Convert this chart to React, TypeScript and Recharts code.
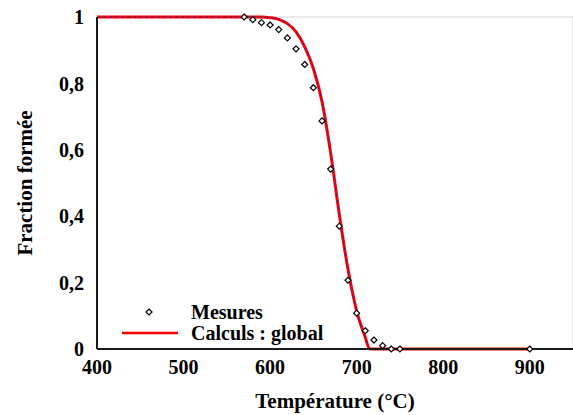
import {
  CartesianGrid,
  ComposedChart,
  Legend,
  Line,
  Scatter,
  XAxis,
  YAxis,
} from "recharts";

const xTicks = [400, 500, 600, 700, 800, 900];
const yTicks = [0, 0.2, 0.4, 0.6, 0.8, 1];

// Mesures
const mesT = [570, 580, 590, 600, 610, 620, 630, 640, 650, 660, 670, 680, 690, 700, 710, 720, 730, 740, 750, 900];
const mesF = [1, 0.992, 0.983, 0.976, 0.962, 0.937, 0.904, 0.857, 0.787, 0.687, 0.542, 0.37, 0.207, 0.108, 0.055, 0.027, 0.01, 0, 0, 0];

// Calculs : global
const calcT = [400, 550, 590, 600, 610, 620, 630, 640, 650, 660, 670, 680, 690, 700, 710, 715, 800, 900];
const calcF = [1, 1, 1, 0.998, 0.993, 0.98, 0.955, 0.91, 0.845, 0.745, 0.59, 0.405, 0.24, 0.115, 0.035, 0, 0, 0];

const mesures = mesT.map((t, i) => ({ t, f: mesF[i] }));
const calculs = calcT.map((t, i) => ({ t, f: calcF[i] }));

const FONT = "Liberation Serif, Times New Roman, serif";
const tickStyle = { fontSize: 20, fontWeight: 700, fill: "#000", fontFamily: FONT };

const fmtY = (v: number) => (v === 0 || v === 1 ? `${v}` : v.toFixed(1).replace(".", ","));

function Diamond(props: any) {
  const { cx, cy } = props;
  if (cx == null || cy == null) return null;
  const r = 3;
  return (
    <polygon
      points={`${cx},${cy - r} ${cx + r},${cy} ${cx},${cy + r} ${cx - r},${cy}`}
      fill="#fff"
      stroke="#000"
      strokeWidth={1.2}
    />
  );
}

function LegendBox() {
  return (
    <div
      style={{
        background: "#fff",
        width: 222,
        height: 45,
        fontFamily: FONT,
        fontWeight: 700,
        fontSize: 20,
        color: "#000",
        position: "relative",
      }}
    >
      <svg width={80} height={45} style={{ position: "absolute", left: 0, top: 0 }}>
        <polygon points="39,7 42,10 39,13 36,10" fill="#fff" stroke="#000" strokeWidth={1.2} />
        <line x1={12} y1={31} x2={68} y2={31} stroke="#ff0000" strokeWidth={2.5} />
      </svg>
      <div style={{ position: "absolute", left: 81, top: -1, lineHeight: "22px" }}>Mesures</div>
      <div style={{ position: "absolute", left: 81, top: 20, lineHeight: "22px", whiteSpace: "nowrap" }}>
        Calculs : global
      </div>
    </div>
  );
}

export default function App() {
  return (
    <div style={{ position: "absolute", left: 0, top: 0, background: "#fff" }}>
      <ComposedChart
        width={573}
        height={415}
        margin={{ top: 17, right: 0, bottom: 0, left: 0 }}
      >
        <CartesianGrid stroke="#d4d4d4" strokeWidth={1} />
        <XAxis
          xAxisId="main"
          dataKey="t"
          type="number"
          domain={[400, 950]}
          ticks={xTicks}
          height={66}
          tickLine={false}
          tickSize={8}
          tickMargin={3}
          axisLine={{ stroke: "#1a1a1a", strokeWidth: 2 }}
          tick={tickStyle}
          label={{
            value: "Température (°C)",
            position: "insideBottom",
            offset: 7,
            style: { fontSize: 21, fontWeight: 700, fill: "#000", fontFamily: FONT },
          }}
        />
        <XAxis
          xAxisId="bottomTicks"
          type="number"
          domain={[400, 950]}
          ticks={xTicks}
          orientation="bottom"
          mirror
          height={0}
          tick={false}
          tickSize={5}
          axisLine={false}
          tickLine={{ stroke: "#333", strokeWidth: 1.5 }}
        />
        <XAxis
          xAxisId="top"
          type="number"
          domain={[400, 950]}
          ticks={xTicks}
          orientation="top"
          mirror
          height={0}
          tick={false}
          tickSize={5}
          axisLine={{ stroke: "#000", strokeWidth: 1.5 }}
          tickLine={{ stroke: "#333", strokeWidth: 1.5 }}
        />
        <YAxis
          yAxisId="main"
          type="number"
          domain={[0, 1]}
          ticks={yTicks}
          width={97}
          tickLine={false}
          tickSize={6}
          tickMargin={7}
          axisLine={{ stroke: "#1a1a1a", strokeWidth: 2 }}
          tick={tickStyle}
          tickFormatter={fmtY}
          label={{
            position: "center",
            content: (p: any) => {
              const vb = p.viewBox || { x: 0, y: 17, width: 97, height: 332 };
              const x = vb.x + 25;
              const y = vb.y + vb.height / 2;
              return (
                <text
                  x={x}
                  y={y}
                  transform={`rotate(-90 ${x} ${y})`}
                  textAnchor="middle"
                  dominantBaseline="central"
                  style={{ fontSize: 21, fontWeight: 700, fill: "#000", fontFamily: FONT }}
                >
                  Fraction formée
                </text>
              );
            },
          }}
        />
        <YAxis
          yAxisId="right"
          type="number"
          domain={[0, 1]}
          ticks={yTicks}
          orientation="right"
          mirror
          width={0}
          tick={false}
          tickSize={4}
          axisLine={false}
          tickLine={{ stroke: "#333", strokeWidth: 1.5 }}
        />
        <YAxis
          yAxisId="leftTicks"
          type="number"
          domain={[0, 1]}
          ticks={yTicks}
          orientation="left"
          mirror
          width={0}
          tick={false}
          tickSize={5}
          axisLine={false}
          tickLine={{ stroke: "#333", strokeWidth: 1.5 }}
        />
        <Line
          xAxisId="main"
          yAxisId="main"
          data={calculs}
          dataKey="f"
          type="monotone"
          stroke="#ff0000"
          strokeWidth={3}
          dot={false}
          activeDot={false}
          isAnimationActive={false}
          legendType="none"
        />
        <Line
          xAxisId="main"
          yAxisId="main"
          data={calculs}
          dataKey="f"
          type="monotone"
          stroke="#2a2aa0"
          strokeWidth={1}
          strokeDasharray="3 3"
          dot={false}
          activeDot={false}
          isAnimationActive={false}
          legendType="none"
        />
        <Scatter
          xAxisId="main"
          yAxisId="main"
          data={mesures}
          dataKey="f"
          shape={<Diamond />}
          isAnimationActive={false}
          legendType="none"
        />
        <Legend
          layout="vertical"
          align="center"
          verticalAlign="middle"
          content={() => <LegendBox />}
          wrapperStyle={{ position: "absolute", left: 110, top: 302, width: 222 }}
        />
      </ComposedChart>
    </div>
  );
}
